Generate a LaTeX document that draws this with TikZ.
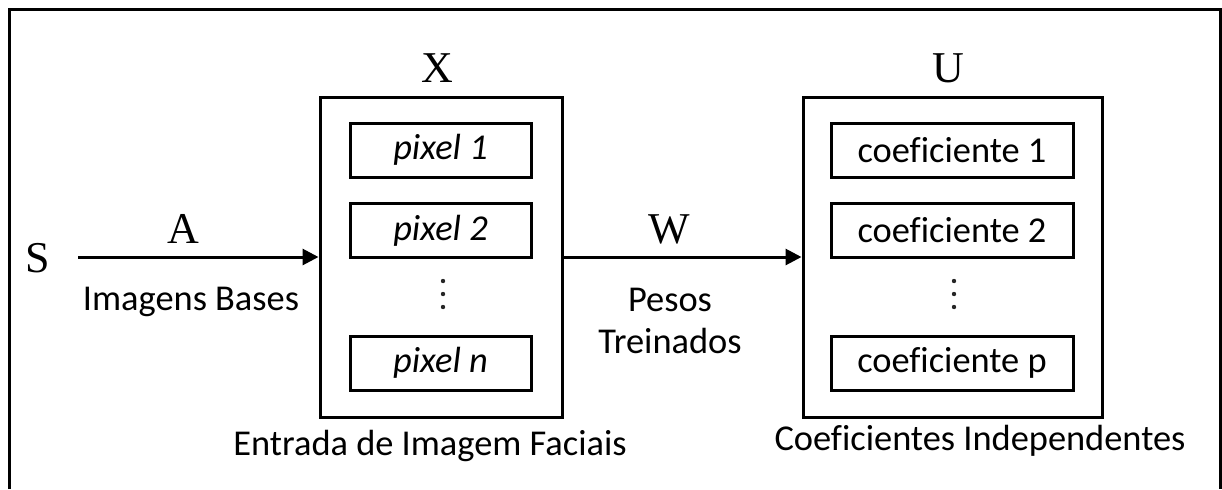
\documentclass[tikz,border=0pt]{standalone}
\usepackage{fontspec}
\setmainfont{Carlito}[Ligatures={NoCommon}]
\newfontfamily\letterfont{Liberation Serif}
\usetikzlibrary{arrows.meta}
\begin{document}
\begin{tikzpicture}[x=0.5pt,y=-0.5pt,
  lw/.style={line width=1.5pt},
  outerbox/.style={draw,lw,minimum height=160pt,inner sep=0pt},
  cellbox/.style={draw,lw,minimum height=27pt,inner sep=0pt,font=\fontsize{18.2}{20}\selectfont},
  caption/.style={font=\fontsize{18.2}{21}\selectfont,inner sep=0pt,align=center},
  sym/.style={font=\letterfont\fontsize{22}{24}\selectfont,inner sep=0pt},
  flow/.style={lw,-{Triangle[length=8pt,width=8pt]}},
  dot/.style={fill=black!85}]
\useasboundingbox (0,0) rectangle (1222,489);
% frame around the figure (open at the bottom)
\draw[lw] (9,489) -- (9,9) -- (1220,9) -- (1220,489);

% input block X
\node[outerbox,minimum width=121pt] (xbox) at (441,257) {};
\node[sym] (xlab) at (437,68) {X};
\node[cellbox,minimum width=90.5pt] (p1) at (440.5,150) {\itshape pixel 1};
\node[cellbox,minimum width=90.5pt] (p2) at (440.5,230.5) {\itshape pixel 2};
\foreach \yy in {281,294,307} \fill[dot] (443,\yy) circle[radius=1.1pt];
\node[cellbox,minimum width=90.5pt] (pn) at (440.5,363) {\itshape pixel n};
\node[caption] (xcap) at (430,446) {Entrada de Imagem Faciais};

% output block U
\node[outerbox,minimum width=149.5pt] (ubox) at (952.5,257) {};
\node[sym] (ulab) at (948,68) {U};
\node[cellbox,minimum width=121pt] (c1) at (952,150) {coeficiente 1};
\node[cellbox,minimum width=121pt] (c2) at (952,230.5) {coeficiente 2};
\foreach \yy in {281,294,307} \fill[dot] (954,\yy) circle[radius=1.1pt];
\node[cellbox,minimum width=121pt] (cp) at (952,363) {coeficiente p};
\node[caption] (ucap) at (980,441) {Coeficientes Independentes};

% source S and mixing A
\node[sym] (s) at (38,258) {S};
\coordinate (astart) at (78,257);
\draw[flow] (astart) -- (xbox.west);
\node[sym] (alab) at (183,229) {A};
\node[caption] (acap) at (191,302) {Imagens Bases};

% trained weights W
\draw[flow] (xbox.east) -- (ubox.west);
\node[sym] (wlab) at (669,229) {W};
\node[caption] (wcap) at (670,321) {Pesos\\Treinados};
\end{tikzpicture}
\end{document}
